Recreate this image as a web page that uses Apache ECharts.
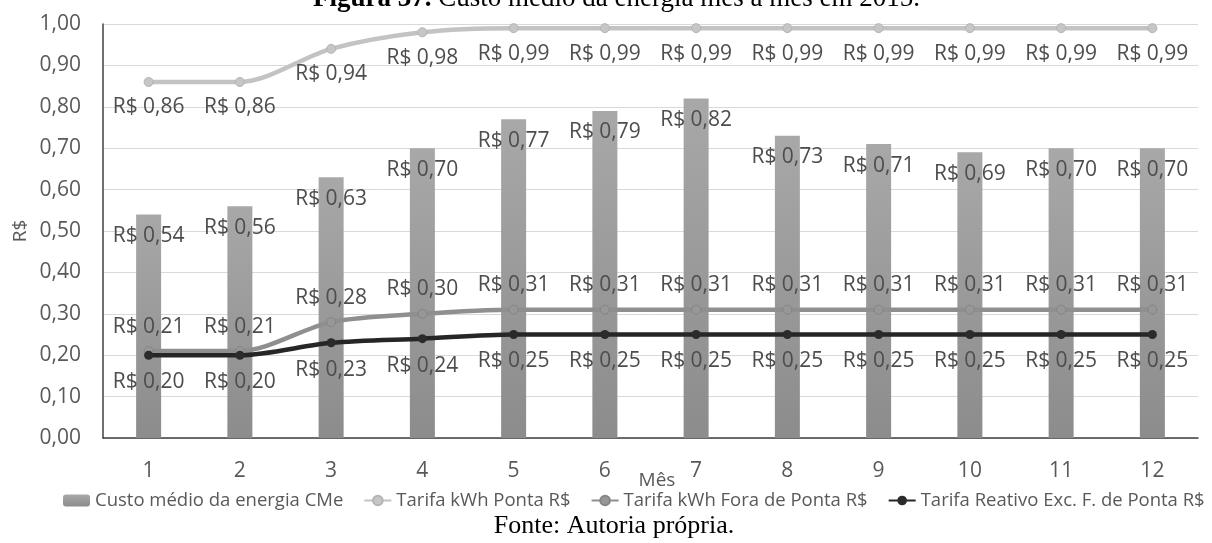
<!DOCTYPE html>
<html>
<head>
<meta charset="utf-8">
<title>Custo médio da energia mês a mês em 2015</title>
<script src="https://cdn.jsdelivr.net/npm/echarts@6/dist/echarts.min.js"></script>
<style>
  html, body { margin: 0; padding: 0; background: #ffffff; }
  #chart { width: 1212px; height: 543px; }
</style>
</head>
<body>
<div id="chart"></div>
<script>
// Months of 2015
const months = ['1', '2', '3', '4', '5', '6', '7', '8', '9', '10', '11', '12'];

// Average energy cost per month (R$)
const custoMedio = [0.54, 0.56, 0.63, 0.70, 0.77, 0.79, 0.82, 0.73, 0.71, 0.69, 0.70, 0.70];

// Peak kWh tariff (R$)
const tarifaPonta = [0.86, 0.86, 0.94, 0.98, 0.99, 0.99, 0.99, 0.99, 0.99, 0.99, 0.99, 0.99];

// Off-peak kWh tariff (R$)
const tarifaForaPonta = [0.21, 0.21, 0.28, 0.30, 0.31, 0.31, 0.31, 0.31, 0.31, 0.31, 0.31, 0.31];

// Excess reactive off-peak tariff (R$)
const tarifaReativo = [0.20, 0.20, 0.23, 0.24, 0.25, 0.25, 0.25, 0.25, 0.25, 0.25, 0.25, 0.25];

const seriesNames = [
  'Custo médio da energia CMe',
  'Tarifa kWh Ponta R$',
  'Tarifa kWh Fora de Ponta R$',
  'Tarifa Reativo Exc. F. de Ponta R$'
];

const SANS = '"Open Sans", "Noto Sans", sans-serif';
const SERIF = '"Liberation Serif", "Times New Roman", serif';

const brl = v => 'R$ ' + Number(v).toFixed(2).replace('.', ',');
const dec = v => Number(v).toFixed(2).replace('.', ',');

const dataLabel = (position, distance) => ({
  show: true,
  position: position,
  distance: distance,
  color: '#4d4d4d',
  fontFamily: SANS,
  fontSize: 21,
  formatter: p => brl(p.value)
});

const chart = echarts.init(document.getElementById('chart'), null, { renderer: 'canvas' });

chart.setOption({
  backgroundColor: '#ffffff',
  animation: false,
  textStyle: { fontFamily: SANS },
  grid: { left: 103, right: 14, top: 24, bottom: 105 },
  legend: {
    left: 63,
    top: 491,
    width: 1149,
    padding: 0,
    orient: 'horizontal',
    itemWidth: 27,
    itemHeight: 12,
    itemGap: 20,
    textStyle: { color: '#595959', fontFamily: SANS, fontSize: 18.5 },
    data: seriesNames
  },
  xAxis: {
    type: 'category',
    data: months,
    boundaryGap: true,
    name: 'Mês',
    nameLocation: 'middle',
    nameGap: 43,
    nameMoveOverlap: false,
    nameTextStyle: {
      color: '#595959', fontFamily: SANS, fontSize: 19,
      verticalAlign: 'middle', padding: [0, 0, 0, 13]
    },
    axisLine: { show: true, lineStyle: { color: '#404040', width: 1.5 } },
    axisTick: { show: false },
    axisLabel: { color: '#595959', fontFamily: SANS, fontSize: 21, margin: 23 },
    splitLine: { show: false }
  },
  yAxis: {
    type: 'value',
    min: 0,
    max: 1,
    interval: 0.1,
    name: 'R$',
    nameLocation: 'middle',
    nameRotate: 90,
    nameGap: 82,
    nameMoveOverlap: false,
    nameTextStyle: { color: '#595959', fontFamily: SANS, fontSize: 19, verticalAlign: 'middle' },
    axisLine: { show: true, lineStyle: { color: '#404040', width: 1.5 } },
    axisTick: { show: false },
    axisLabel: { color: '#595959', fontFamily: SANS, fontSize: 21, margin: 22, formatter: dec },
    splitLine: { show: true, lineStyle: { color: '#d9d9d9', width: 1 } }
  },
  series: [
    {
      name: seriesNames[0],
      type: 'bar',
      data: custoMedio,
      barWidth: 25,
      itemStyle: {
        color: new echarts.graphic.LinearGradient(0, 0, 0, 1, [
          { offset: 0, color: '#a8a8a8' },
          { offset: 1, color: '#8c8c8c' }
        ])
      },
      label: dataLabel('insideTop', 11),
      z: 2
    },
    {
      name: seriesNames[1],
      type: 'line',
      data: tarifaPonta,
      smooth: 0.3,
      symbol: 'circle',
      symbolSize: 9,
      lineStyle: { color: '#c3c3c3', width: 4.5 },
      itemStyle: { color: '#c6c6c6', borderColor: '#b4b4b4', borderWidth: 1 },
      label: dataLabel('bottom', 10),
      z: 3
    },
    {
      name: seriesNames[2],
      type: 'line',
      data: tarifaForaPonta,
      smooth: 0.3,
      symbol: 'circle',
      symbolSize: 9,
      lineStyle: { color: '#8f8f8f', width: 4.5 },
      itemStyle: { color: '#979797', borderColor: '#858585', borderWidth: 1 },
      label: dataLabel('top', 9),
      z: 4
    },
    {
      name: seriesNames[3],
      type: 'line',
      data: tarifaReativo,
      smooth: 0.3,
      symbol: 'circle',
      symbolSize: 9,
      lineStyle: { color: '#262626', width: 4.5 },
      itemStyle: { color: '#2b2b2b' },
      label: dataLabel('bottom', 12),
      z: 5
    }
  ],
  graphic: [
    {
      type: 'text',
      x: 313,
      y: -1,
      style: {
        text: '{b|Figura 37.}{r| Custo médio da energia mês a mês em 2015.}',
        verticalAlign: 'middle',
        fill: '#000000',
        fontFamily: SERIF,
        fontSize: 27,
        rich: {
          b: { fontFamily: SERIF, fontSize: 27, fontWeight: 'bold', fill: '#000000' },
          r: { fontFamily: SERIF, fontSize: 27, fill: '#000000' }
        }
      }
    },
    {
      type: 'text',
      x: 614,
      y: 526,
      style: {
        text: 'Fonte: Autoria própria.',
        align: 'center',
        verticalAlign: 'middle',
        fill: '#000000',
        fontFamily: SERIF,
        fontSize: 26
      }
    }
  ]
});
</script>
</body>
</html>
